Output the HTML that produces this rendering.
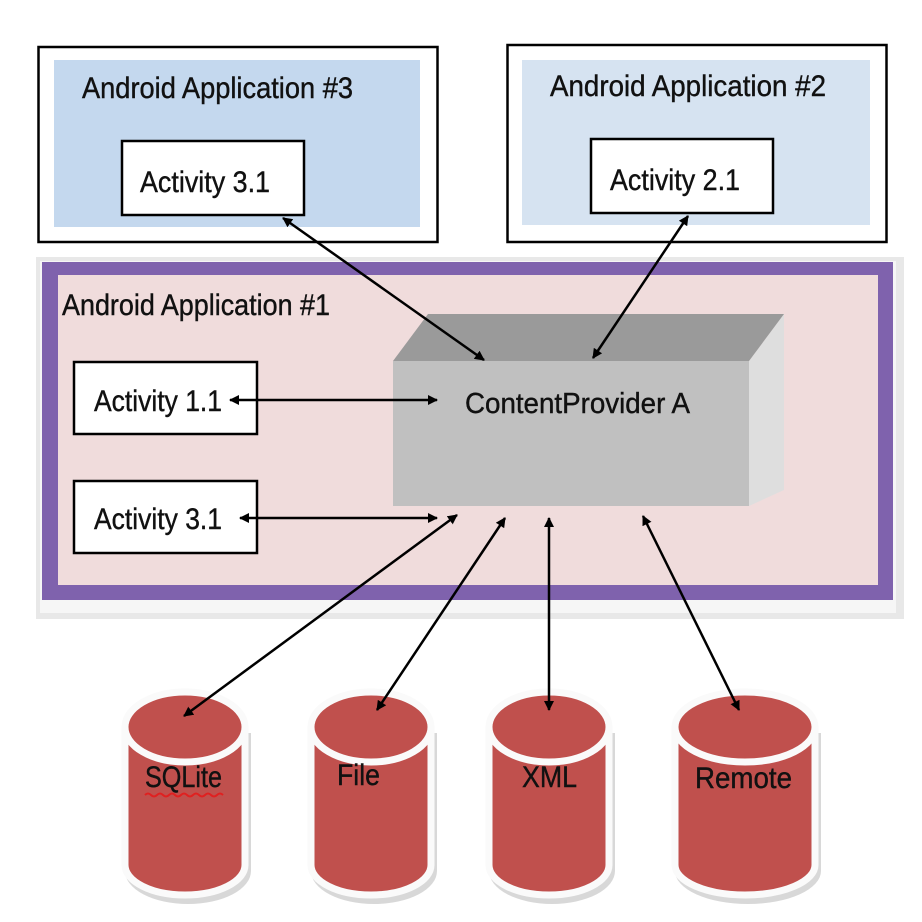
<!DOCTYPE html>
<html><head><meta charset="utf-8"><style>html,body{margin:0;padding:0;background:#fff}svg{display:block}</style></head>
<body>
<svg width="922" height="922" viewBox="0 0 922 922" xmlns="http://www.w3.org/2000/svg" font-family="'Liberation Sans', sans-serif">
<defs>
<marker id="ah" markerWidth="10" markerHeight="10" refX="9" refY="5" orient="auto-start-reverse" markerUnits="userSpaceOnUse" viewBox="0 0 10 10">
<path d="M0,0 L10,5 L0,10 z" fill="#000"/>
</marker>
</defs>
<rect width="922" height="922" fill="#fff"/>
<!-- App 3 -->
<rect x="38.5" y="47" width="399" height="195" fill="#fff" stroke="#000" stroke-width="2.5"/>
<rect x="54" y="60" width="366" height="167" fill="#c4d8ee"/>
<text x="82" y="98" font-size="30" textLength="271" lengthAdjust="spacingAndGlyphs" fill="#111" stroke="#111" stroke-width="0.4">Android Application #3</text>
<rect x="122" y="141" width="182" height="74" fill="#fff" stroke="#000" stroke-width="2.5"/>
<text x="140" y="192" font-size="30" textLength="130" lengthAdjust="spacingAndGlyphs" fill="#111" stroke="#111" stroke-width="0.4">Activity 3.1</text>
<!-- App 2 -->
<rect x="507.5" y="45" width="379" height="197" fill="#fff" stroke="#000" stroke-width="2.5"/>
<rect x="522" y="60" width="348" height="165" fill="#d6e3f1"/>
<text x="550" y="96" font-size="30" textLength="276" lengthAdjust="spacingAndGlyphs" fill="#111" stroke="#111" stroke-width="0.4">Android Application #2</text>
<rect x="591" y="139" width="182" height="74" fill="#fff" stroke="#000" stroke-width="2.5"/>
<text x="610" y="190" font-size="30" textLength="130" lengthAdjust="spacingAndGlyphs" fill="#111" stroke="#111" stroke-width="0.4">Activity 2.1</text>
<!-- App 1 -->
<rect x="36" y="257" width="868" height="362" fill="#e8e8e8"/>
<rect x="40" y="261" width="856" height="352" fill="#f6f6f6"/>
<rect x="42" y="262" width="851" height="338" fill="#7f62ad"/>
<rect x="58" y="275" width="820" height="310" fill="#f0dcdc"/>
<text x="62" y="315" font-size="30" textLength="268" lengthAdjust="spacingAndGlyphs" fill="#111" stroke="#111" stroke-width="0.4">Android Application #1</text>
<rect x="74" y="362" width="183" height="72" fill="#fff" stroke="#000" stroke-width="2.5"/>
<text x="94" y="411" font-size="30" textLength="128" lengthAdjust="spacingAndGlyphs" fill="#111" stroke="#111" stroke-width="0.4">Activity 1.1</text>
<rect x="74" y="481" width="183" height="72" fill="#fff" stroke="#000" stroke-width="2.5"/>
<text x="94" y="529" font-size="30" textLength="128" lengthAdjust="spacingAndGlyphs" fill="#111" stroke="#111" stroke-width="0.4">Activity 3.1</text>
<!-- ContentProvider box -->
<polygon points="749,361 784,314 784,490 749,506" fill="#dedede"/>
<rect x="393" y="361" width="356" height="145" fill="#c0c0c0"/>
<polygon points="393,361 428,314 784,314 749,361" fill="#9a9a9a"/>
<text x="465" y="413" font-size="29" textLength="225" lengthAdjust="spacingAndGlyphs" fill="#111" stroke="#111" stroke-width="0.4">ContentProvider A</text>
<!-- cylinders -->
<g>
<path d="M122,727 L122,865 A63,33 0 0 0 248,865 L248,727 z" fill="#d8d8d8" transform="translate(3,6)"/>
<path d="M308,727 L308,865 A63,33 0 0 0 434,865 L434,727 z" fill="#d8d8d8" transform="translate(3,6)"/>
<path d="M486,727 L486,865 A63,33 0 0 0 612,865 L612,727 z" fill="#d8d8d8" transform="translate(3,6)"/>
<path d="M672,727 L672,865 A73,33 0 0 0 818,865 L818,727 z" fill="#d8d8d8" transform="translate(3,6)"/>
</g>
<g fill="#c0504d" stroke="#fafafa" stroke-width="7">
<path d="M125,727 L125,865 A60,30 0 0 0 245,865 L245,727"/><ellipse cx="185" cy="727" rx="60" ry="35"/>
<path d="M311,727 L311,865 A60,30 0 0 0 431,865 L431,727"/><ellipse cx="371" cy="727" rx="60" ry="35"/>
<path d="M489,727 L489,865 A60,30 0 0 0 609,865 L609,727"/><ellipse cx="549" cy="727" rx="60" ry="35"/>
<path d="M675,727 L675,865 A70,30 0 0 0 815,865 L815,727"/><ellipse cx="745" cy="727" rx="70" ry="35"/>
</g>
<g font-size="30" fill="#111" stroke="#111" stroke-width="0.4">
<text x="145" y="787" textLength="77" lengthAdjust="spacingAndGlyphs">SQLite</text>
<text x="337" y="785" textLength="43" lengthAdjust="spacingAndGlyphs">File</text>
<text x="522" y="787" textLength="55" lengthAdjust="spacingAndGlyphs">XML</text>
<text x="695" y="788" textLength="97" lengthAdjust="spacingAndGlyphs">Remote</text>
</g>
<path d="M145,795 q3,-3 6,0 t6,0 t6,0 t6,0 t6,0 t6,0 t6,0 t6,0 t6,0 t6,0 t6,0 t6,0 t6,0" stroke="#e02020" stroke-width="2" fill="none"/>
<!-- arrows -->
<g stroke="#000" stroke-width="2.5" fill="none">
<line x1="283" y1="218" x2="484" y2="360" marker-start="url(#ah)" marker-end="url(#ah)"/>
<line x1="688" y1="216" x2="593" y2="358" marker-start="url(#ah)" marker-end="url(#ah)"/>
<line x1="230" y1="400" x2="437" y2="400" marker-start="url(#ah)" marker-end="url(#ah)"/>
<line x1="240" y1="518" x2="437" y2="518" marker-start="url(#ah)" marker-end="url(#ah)"/>
<line x1="457" y1="515" x2="184" y2="716" marker-start="url(#ah)" marker-end="url(#ah)"/>
<line x1="505" y1="518" x2="377" y2="710" marker-start="url(#ah)" marker-end="url(#ah)"/>
<line x1="549" y1="518" x2="549" y2="710" marker-start="url(#ah)" marker-end="url(#ah)"/>
<line x1="643" y1="516" x2="739" y2="710" marker-start="url(#ah)" marker-end="url(#ah)"/>
</g>
</svg>
</body></html>
